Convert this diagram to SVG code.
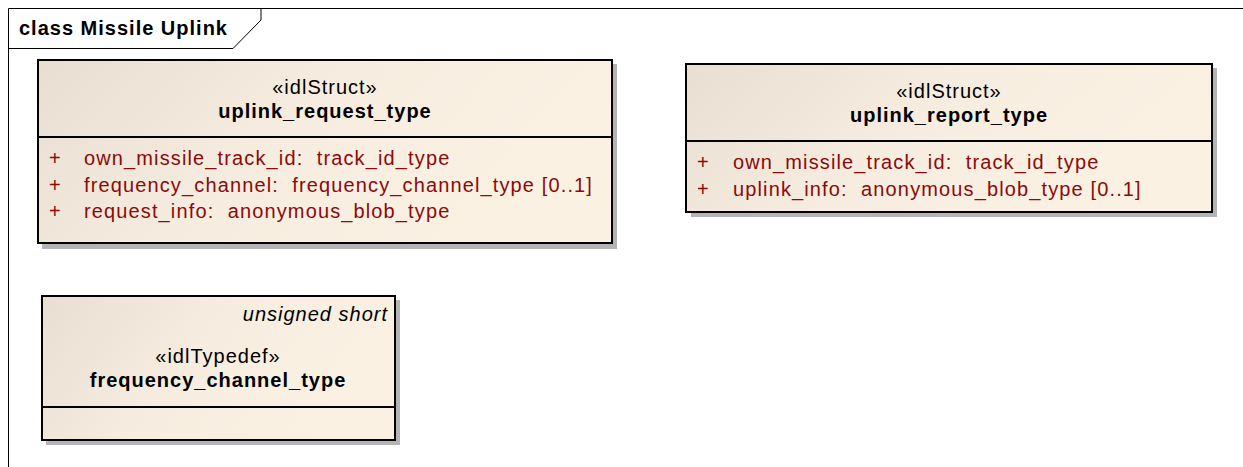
<svg xmlns="http://www.w3.org/2000/svg" width="1243" height="467" viewBox="0 0 1243 467">
<style>
.frame{fill:none;stroke:#000;stroke-width:1}
.box{stroke:#000;stroke-width:2;fill:url(#g)}
.shadow{fill:#b4b4b4}
.div{stroke:#000;stroke-width:2}
text{font-family:"Liberation Sans",Arial,sans-serif;font-size:20px;letter-spacing:1px;fill:#000;white-space:pre}
.title{font-weight:bold}
.st{text-anchor:middle}
.nm{text-anchor:middle;font-weight:bold}
.at{fill:#8b0a0a;letter-spacing:1.13px}
.it{font-style:italic;text-anchor:end}
</style>
<defs>
<linearGradient id="g" x1="0" y1="0" x2="1" y2="0.3">
<stop offset="0" stop-color="#e8dfd2"/>
<stop offset="0.5" stop-color="#f6ede0"/>
<stop offset="1" stop-color="#fbf1e3"/>
</linearGradient>
</defs>
<g id="frame">
<path class="frame" d="M8.5,467 V8.5 H1243"/>
<path class="frame" d="M8.5,48.5 H233 L261,20 V8.5"/>
<text class="title" x="19" y="35">class Missile Uplink</text>
</g>
<g id="uplink_request_type">
<rect class="shadow" x="42" y="64" width="575" height="185"/>
<rect class="box" x="38" y="60" width="574" height="183"/>
<line class="div" x1="38" y1="137" x2="612" y2="137"/>
<text class="st" x="325" y="94">«idlStruct»</text>
<text class="nm" x="325" y="118">uplink_request_type</text>
<text class="at" x="49" y="165">+</text>
<text class="at" x="84" y="165">own_missile_track_id:  track_id_type</text>
<text class="at" x="49" y="191.5">+</text>
<text class="at" x="84" y="191.5">frequency_channel:  frequency_channel_type [0..1]</text>
<text class="at" x="49" y="218">+</text>
<text class="at" x="84" y="218">request_info:  anonymous_blob_type</text>
</g>
<g id="uplink_report_type">
<rect class="shadow" x="691" y="68" width="526" height="149"/>
<rect class="box" x="686" y="64" width="526" height="148"/>
<line class="div" x1="686" y1="141" x2="1212" y2="141"/>
<text class="st" x="949" y="98">«idlStruct»</text>
<text class="nm" x="949" y="122">uplink_report_type</text>
<text class="at" x="697" y="169">+</text>
<text class="at" x="733" y="169">own_missile_track_id:  track_id_type</text>
<text class="at" x="697" y="195.5">+</text>
<text class="at" x="733" y="195.5">uplink_info:  anonymous_blob_type [0..1]</text>
</g>
<g id="frequency_channel_type">
<rect class="shadow" x="46" y="300" width="354" height="145"/>
<rect class="box" x="42" y="296" width="353" height="144"/>
<line class="div" x1="42" y1="407" x2="395" y2="407"/>
<text class="it" x="388" y="321">unsigned short</text>
<text class="st" x="218" y="363">«idlTypedef»</text>
<text class="nm" x="218" y="387">frequency_channel_type</text>
</g>
<g id="connectors"></g>
</svg>
